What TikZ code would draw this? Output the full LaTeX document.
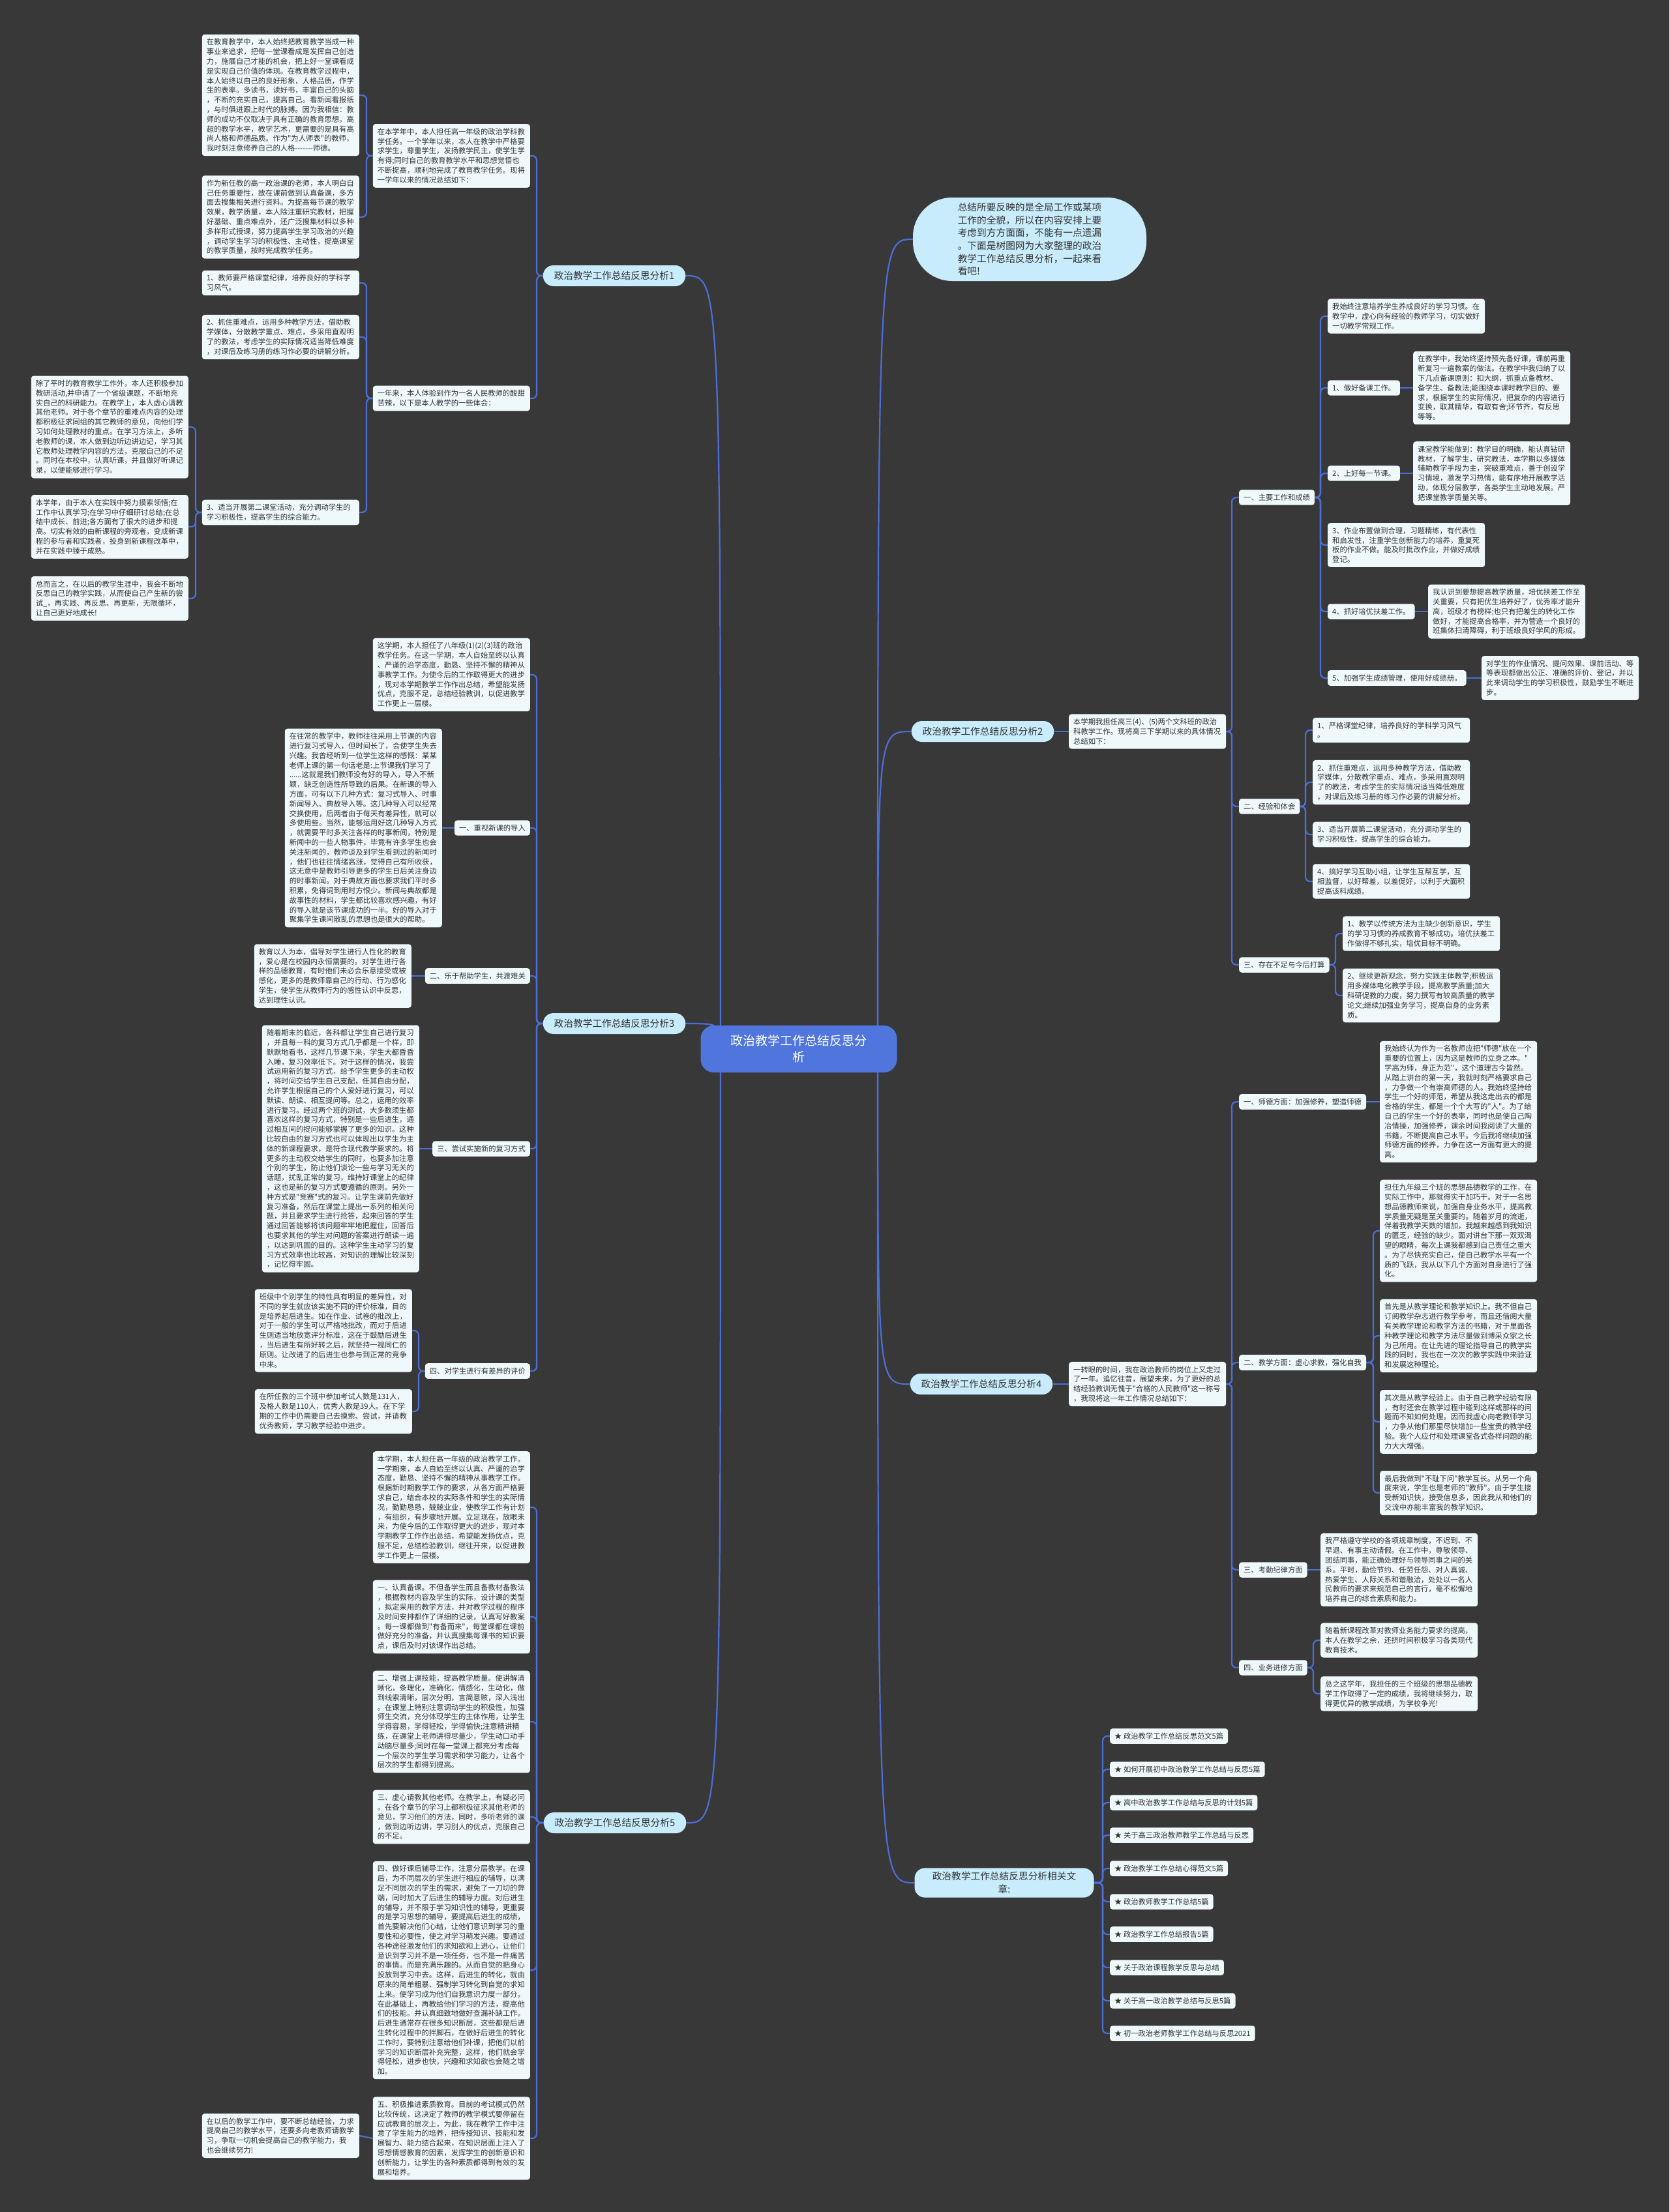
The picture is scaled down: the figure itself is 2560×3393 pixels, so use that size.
\documentclass[tikz,border=0pt]{standalone}
\usepackage{fontspec}
\setmainfont{Noto Sans CJK SC}[Ligatures=TeXOff]
\definecolor{bgc}{HTML}{383838}
\definecolor{boxf}{HTML}{EFF9FC}
\definecolor{topf}{HTML}{C8ECFB}
\definecolor{ctrf}{HTML}{5076DE}
\definecolor{linec}{HTML}{4C6ED8}
\definecolor{txt}{HTML}{333333}
\pgfdeclarelayer{bgl}
\pgfdeclarelayer{edges}
\pgfsetlayers{bgl,edges,main}
\newcommand\lconn[3]{\draw[bconn] (#1.west) -- (#1.west -| #3) |- (#2.east);}
\newcommand\rconn[3]{\draw[bconn] (#1.east) -- (#1.east -| #3) |- (#2.west);}
\newcommand\lcurve[1]{\draw[conn] (ctr.center -| xl) .. controls (xl |- #1.east) .. (#1.east);}
\newcommand\rcurve[1]{\draw[conn] (ctr.center -| xrr) .. controls (xrr |- #1.west) .. (#1.west);}
\begin{document}
\begin{tikzpicture}[x=1pt,y=-1pt,
  box/.style={fill=boxf,rounded corners=4pt,inner xsep=7pt,inner ysep=6.5pt,text=txt,align=left,font=\fontsize{11.3}{14.8}\selectfont},
  wbox/.style={box,text width=227pt},
  tpc/.style={fill=topf,rounded corners=16pt,minimum height=32pt,inner xsep=17pt,inner ysep=6pt,text=txt,align=center,font=\fontsize{14.7}{19.6}\selectfont},
  conn/.style={draw=linec,line width=2.2pt},
  bconn/.style={conn,rounded corners=7pt}]
\begin{pgfonlayer}{bgl}
\fill[bgc] (0,0) rectangle (2560,3393);
\end{pgfonlayer}
\useasboundingbox (0,0) rectangle (2560,3393);

% ---------- centre ----------
\node[fill=ctrf,rounded corners=20pt,minimum width=301pt,minimum height=72pt,text width=215pt,align=center,text=white,font=\fontsize{19}{25}\selectfont] (ctr) at (1225,1609) {政治教学工作总结反思分\\析};

% ---------- topics ----------
\node[tpc] (t1) at (942,423) {政治教学工作总结反思分析1};
\node[tpc] (t3) at (942,1570) {政治教学工作总结反思分析3};
\node[tpc] (t5) at (943,2796) {政治教学工作总结反思分析5};
\node[tpc] (t2) at (1507,1122) {政治教学工作总结反思分析2};
\node[tpc] (t4) at (1505,2123) {政治教学工作总结反思分析4};
\node[tpc,text width=241pt] (t6) at (1540,2888) {政治教学工作总结反思分析相关文\\章:};
\node[fill=topf,rounded corners=60pt,minimum width=358pt,minimum height=128pt,text=txt,align=left,font=\fontsize{14.7}{19.6}\selectfont] (bub) at (1579,367) {总结所要反映的是全局工作或某项\\工作的全貌，所以在内容安排上要\\考虑到方方面面，不能有一点遗漏\\。下面是树图网为大家整理的政治\\教学工作总结反思分析，一起来看\\看吧!};

% ---------- topic 1 ----------
\node[wbox,anchor=east] (a1) at (551,146) {在教育教学中，本人始终把教育教学当成一种\\事业来追求，把每一堂课看成是发挥自己创造\\力，施展自己才能的机会，把上好一堂课看成\\是实现自己价值的体现。在教育教学过程中，\\本人始终以自己的良好形象，人格品质，作学\\生的表率。多读书，读好书，丰富自己的头脑\\，不断的充实自己，提高自己。看新闻看报纸\\，与时俱进跟上时代的脉搏。因为我相信：教\\师的成功不仅取决于具有正确的教育思想，高\\超的教学水平，教学艺术，更需要的是具有高\\尚人格和师德品质。作为"为人师表"的教师，\\我时刻注意修养自己的人格-------师德。};
\node[wbox,anchor=east] (a2) at (551,333) {作为新任教的高一政治课的老师，本人明白自\\己任务重要性，故在课前做到认真备课，多方\\面去搜集相关进行资料。为提高每节课的教学\\效果，教学质量，本人除注重研究教材，把握\\好基础、重点难点外，还广泛搜集材料以多种\\多样形式授课，努力提高学生学习政治的兴趣\\，调动学生学习的积极性、主动性，提高课堂\\的教学质量，按时完成教学任务。};
\node[wbox,anchor=east] (i1) at (813,239) {在本学年中，本人担任高一年级的政治学科教\\学任务。一个学年以来，本人在教学中严格要\\求学生，尊重学生，发扬教学民主，使学生学\\有得;同时自己的教育教学水平和思想觉悟也\\不断提高，顺利地完成了教育教学任务。现将\\一学年以来的情况总结如下：};
\node[wbox,anchor=east] (y1) at (813,611) {一年来，本人体验到作为一名人民教师的酸甜\\苦辣，以下是本人教学的一些体会：};
\node[wbox,anchor=east] (p1) at (551,434) {1、教师要严格课堂纪律，培养良好的学科学\\习风气。};
\node[wbox,anchor=east] (p2) at (551,517) {2、抓住重难点，运用多种教学方法，借助教\\学媒体，分散教学重点、难点，多采用直观明\\了的教法，考虑学生的实际情况适当降低难度\\，对课后及练习册的练习作必要的讲解分析。};
\node[wbox,anchor=east] (p3) at (551,786) {3、适当开展第二课堂活动，充分调动学生的\\学习积极性，提高学生的综合能力。};
\node[wbox,anchor=east] (l1) at (289,655) {除了平时的教育教学工作外，本人还积极参加\\教研活动,并申请了一个省级课题，不断地充\\实自己的科研能力。在教学上，本人虚心请教\\其他老师。对于各个章节的重难点内容的处理\\都积极征求同组的其它教师的意见，向他们学\\习如何处理教材的重点。在学习方法上，多听\\老教师的课，本人做到边听边讲边记，学习其\\它教师处理教学内容的方法，克服自己的不足\\。同时在本校中，认真听课，并且做好听课记\\录，以便能够进行学习。};
\node[wbox,anchor=east] (l2) at (289,808) {本学年，由于本人在实践中努力摸索领悟;在\\工作中认真学习;在学习中仔细研讨总结;在总\\结中成长、前进;各方面有了很大的进步和提\\高。切实有效的由新课程的旁观者，变成新课\\程的参与者和实践者，投身到新课程改革中，\\并在实践中臻于成熟。};
\node[wbox,anchor=east] (l3) at (289,918) {总而言之，在以后的教学生涯中，我会不断地\\反思自己的教学实践，从而使自己产生新的尝\\试\_，再实践、再反思、再更新，无限循环，\\让自己更好地成长!};

% ---------- topic 3 ----------
\node[wbox,anchor=east] (i3) at (813,1035) {这学期，本人担任了八年级(1)(2)(3)班的政治\\教学任务。在这一学期，本人自始至终以认真\\、严谨的治学态度，勤恳、坚持不懈的精神从\\事教学工作。为使今后的工作取得更大的进步\\，现对本学期教学工作作出总结，希望能发扬\\优点，克服不足，总结经验教训，以促进教学\\工作更上一层楼。};
\node[box,anchor=east] (h1) at (813,1270) {一、重视新课的导入};
\node[wbox,anchor=east] (h1a) at (678,1270) {在往常的教学中，教师往往采用上节课的内容\\进行复习式导入，但时间长了，会使学生失去\\兴趣。我曾经听到一位学生这样的感慨：某某\\老师上课的第一句话老是:上节课我们学习了\\......这就是我们教师没有好的导入，导入不新\\颖，缺乏创造性所导致的后果。在新课的导入\\方面，可有以下几种方式：复习式导入、时事\\新闻导入、典故导入等。这几种导入可以经常\\交换使用，后两者由于每天有差异性，就可以\\多使用些。当然，能够运用好这几种导入方式\\，就需要平时多关注各样的时事新闻，特别是\\新闻中的一些人物事件，毕竟有许多学生也会\\关注新闻的，教师谈及到学生看到过的新闻时\\，他们也往往情绪高涨，觉得自己有所收获，\\这无意中是教师引导更多的学生日后关注身边\\的时事新闻。对于典故方面也要求我们平时多\\积累，免得词到用时方恨少。新闻与典故都是\\故事性的材料，学生都比较喜欢感兴趣，有好\\的导入就是该节课成功的一半。好的导入对于\\聚集学生课间散乱的思想也是很大的帮助。};
\node[box,anchor=east] (h2) at (813,1497) {二、乐于帮助学生，共渡难关};
\node[wbox,anchor=east] (h2a) at (631,1497) {教育以人为本，倡导对学生进行人性化的教育\\，爱心是在校园内永恒需要的。对学生进行各\\样的品德教育，有时他们未必会乐意接受或被\\感化，更多的是教师靠自己的行动、行为感化\\学生，使学生从教师行为的感性认识中反思，\\达到理性认识。};
\node[box,anchor=east] (h3) at (813,1762) {三、尝试实施新的复习方式};
\node[wbox,anchor=east] (h3a) at (643,1762) {随着期末的临近，各科都让学生自己进行复习\\，并且每一科的复习方式几乎都是一个样，即\\默默地看书，这样几节课下来，学生大都昏昏\\入睡，复习效率低下。对于这样的情况，我尝\\试运用新的复习方式，给予学生更多的主动权\\，将时间交给学生自己支配，任其自由分配，\\允许学生根据自己的个人爱好进行复习，可以\\默读、朗读、相互提问等。总之，运用的效率\\进行复习。经过两个班的测试，大多数须生都\\喜欢这样的复习方式，特别是一些后进生，通\\过相互间的提问能够掌握了更多的知识。这种\\比较自由的复习方式也可以体现出以学生为主\\体的新课程要求，是符合现代教学要求的。将\\更多的主动权交给学生的同时，也要多加注意\\个别的学生，防止他们谈论一些与学习无关的\\话题，扰乱正常的复习，维持好课堂上的纪律\\，这也是新的复习方式要遵循的原则。另外一\\种方式是"竞赛"式的复习。让学生课前先做好\\复习准备，然后在课堂上提出一系列的相关问\\题，并且要求学生进行抢答，起来回答的学生\\通过回答能够将该问题牢牢地把握住，回答后\\也要求其他的学生对问题的答案进行朗读一遍\\，以达到巩固的目的。这种学生主动学习的复\\习方式效率也比较高，对知识的理解比较深刻\\，记忆得牢固。};
\node[box,anchor=east] (h4) at (813,2103) {四、对学生进行有差异的评价};
\node[wbox,anchor=east] (h4a) at (632,2041) {班级中个别学生的特性具有明显的差异性，对\\不同的学生就应该实施不同的评价标准，目的\\是培养起后进生。如在作业、试卷的批改上，\\对于一般的学生可以严格地批改，而对于后进\\生则适当地放宽评分标准，这在于鼓励后进生\\，当后进生有所好转之后，就坚持一视同仁的\\原则。让改进了的后进生也参与到正常的竞争\\中来。};
\node[wbox,anchor=east] (h4b) at (632,2165) {在所任教的三个班中参加考试人数是131人，\\及格人数是110人，优秀人数是39人。在下学\\期的工作中仍需要自己去摸索、尝试，并请教\\优秀教师，学习教学经验中进步。};

% ---------- topic 5 ----------
\node[wbox,anchor=east] (i5) at (813,2312) {本学期，本人担任高一年级的政治教学工作。\\一学期来，本人自始至终以认真、严谨的治学\\态度，勤恳、坚持不懈的精神从事教学工作。\\根据新时期教学工作的要求，从各方面严格要\\求自己，结合本校的实际条件和学生的实际情\\况，勤勤恳恳，兢兢业业，使教学工作有计划\\，有组织，有步骤地开展。立足现在，放眼未\\来，为使今后的工作取得更大的进步，现对本\\学期教学工作作出总结，希望能发扬优点，克\\服不足，总结检验教训，继往开来，以促进教\\学工作更上一层楼。};
\node[wbox,anchor=east] (f1) at (813,2480) {一、认真备课。不但备学生而且备教材备教法\\，根据教材内容及学生的实际，设计课的类型\\，拟定采用的教学方法，并对教学过程的程序\\及时间安排都作了详细的记录，认真写好教案\\。每一课都做到"有备而来"，每堂课都在课前\\做好充分的准备，并认真搜集每课书的知识要\\点，课后及时对该课作出总结。};
\node[wbox,anchor=east] (f2) at (813,2641) {二、增强上课技能，提高教学质量。使讲解清\\晰化，条理化，准确化，情感化，生动化，做\\到线索清晰，层次分明，言简意赅，深入浅出\\。在课堂上特别注意调动学生的积极性，加强\\师生交流，充分体现学生的主体作用，让学生\\学得容易，学得轻松，学得愉快;注意精讲精\\练，在课堂上老师讲得尽量少，学生动口动手\\动脑尽量多;同时在每一堂课上都充分考虑每\\一个层次的学生学习需求和学习能力，让各个\\层次的学生都得到提高。};
\node[wbox,anchor=east] (f3) at (813,2787) {三、虚心请教其他老师。在教学上，有疑必问\\。在各个章节的学习上都积极征求其他老师的\\意见，学习他们的方法，同时，多听老师的课\\，做到边听边讲，学习别人的优点，克服自己\\的不足。};
\node[wbox,anchor=east] (f4) at (813,3022) {四、做好课后辅导工作，注意分层教学。在课\\后，为不同层次的学生进行相应的辅导，以满\\足不同层次的学生的需求，避免了一刀切的弊\\端，同时加大了后进生的辅导力度。对后进生\\的辅导，并不限于学习知识性的辅导，更重要\\的是学习思想的辅导，要提高后进生的成绩，\\首先要解决他们心结，让他们意识到学习的重\\要性和必要性，使之对学习萌发兴趣。要通过\\各种途径激发他们的求知欲和上进心，让他们\\意识到学习并不是一项任务，也不是一件痛苦\\的事情。而是充满乐趣的。从而自觉的把身心\\投放到学习中去。这样，后进生的转化，就由\\原来的简单粗暴、强制学习转化到自觉的求知\\上来。使学习成为他们自我意识力度一部分。\\在此基础上，再教给他们学习的方法，提高他\\们的技能。并认真细致地做好查漏补缺工作。\\后进生通常存在很多知识断层，这些都是后进\\生转化过程中的拌脚石，在做好后进生的转化\\工作时，要特别注意给他们补课，把他们以前\\学习的知识断层补充完整，这样，他们就会学\\得轻松，进步也快，兴趣和求知欲也会随之增\\加。};
\node[wbox,anchor=east] (f5) at (813,3280) {五、积极推进素质教育。目前的考试模式仍然\\比较传统，这决定了教师的教学模式要停留在\\应试教育的层次上，为此，我在教学工作中注\\意了学生能力的培养，把传授知识、技能和发\\展智力、能力结合起来，在知识层面上注入了\\思想情感教育的因素，发挥学生的创新意识和\\创新能力，让学生的各种素质都得到有效的发\\展和培养。};
\node[wbox,anchor=east] (f5a) at (551,3276) {在以后的教学工作中，要不断总结经验，力求\\提高自己的教学水平，还要多向老教师请教学\\习，争取一切机会提高自己的教学能力，我\\也会继续努力!};

% ---------- topic 2 ----------
\node[wbox,anchor=west] (i2) at (1639,1122) {本学期我担任高三(4)、(5)两个文科班的政治\\科教学工作。现将高三下学期以来的具体情况\\总结如下：};
\node[box,anchor=west] (m) at (1900,763) {一、主要工作和成绩};
\node[wbox,anchor=west] (m0) at (2036,485) {我始终注意培养学生养成良好的学习习惯。在\\教学中，虚心向有经验的教师学习，切实做好\\一切教学常规工作。};
\node[box,anchor=west] (m1) at (2036,595) {1、做好备课工作。};
\node[wbox,anchor=west] (m1a) at (2167,595) {在教学中，我始终坚持预先备好课，课前再重\\新复习一遍教案的做法。在教学中我归纳了以\\下几点备课原则：扣大纲，抓重点备教材、\\备学生、备教法;能围绕本课时教学目的、要\\求，根据学生的实际情况，把复杂的内容进行\\变换，取其精华，有取有舍;环节齐，有反思\\等等。};
\node[box,anchor=west] (m2) at (2036,726) {2、上好每一节课。};
\node[wbox,anchor=west] (m2a) at (2167,726) {课堂教学能做到：教学目的明确，能认真钻研\\教材，了解学生，研究教法，本学期以多媒体\\辅助教学手段为主，突破重难点，善于创设学\\习情境，激发学习热情，能有序地开展教学活\\动，体现分层教学，各类学生主动地发展。严\\把课堂教学质量关等。};
\node[wbox,anchor=west] (m3) at (2036,836) {3、作业布置做到合理，习题精练，有代表性\\和启发性，注重学生创新能力的培养，重复死\\板的作业不做。能及时批改作业，并做好成绩\\登记。};
\node[box,anchor=west] (m4) at (2036,938) {4、抓好培优扶差工作。};
\node[wbox,anchor=west] (m4a) at (2190,938) {我认识到要想提高教学质量，培优扶差工作至\\关重要，只有把优生培养好了，优秀率才能升\\高，班级才有榜样;也只有把差生的转化工作\\做好，才能提高合格率，并为营造一个良好的\\班集体扫清障碍，利于班级良好学风的形成。};
\node[box,anchor=west] (m5) at (2036,1040) {5、加强学生成绩管理，使用好成绩册。};
\node[wbox,anchor=west] (m5a) at (2272,1040) {对学生的作业情况、提问效果、课前活动、等\\等表现都做出公正、准确的评价、登记，并以\\此来调动学生的学习积极性，鼓励学生不断进\\步。};
\node[box,anchor=west] (e) at (1900,1237) {二、经验和体会};
\node[wbox,anchor=west] (e1) at (2013,1120) {1、严格课堂纪律，培养良好的学科学习风气\\。};
\node[wbox,anchor=west] (e2) at (2013,1200) {2、抓住重难点，运用多种教学方法，借助教\\学媒体，分散教学重点、难点，多采用直观明\\了的教法，考虑学生的实际情况适当降低难度\\，对课后及练习册的练习作必要的讲解分析。};
\node[wbox,anchor=west] (e3) at (2013,1280) {3、适当开展第二课堂活动，充分调动学生的\\学习积极性，提高学生的综合能力。};
\node[wbox,anchor=west] (e4) at (2013,1352) {4、搞好学习互助小组，让学生互帮互学，互\\相监督，以好帮差，以差促好，以利于大面积\\提高该科成绩。};
\node[box,anchor=west] (s) at (1900,1480) {三、存在不足与今后打算};
\node[wbox,anchor=west] (s1) at (2059,1432) {1、教学以传统方法为主缺少创新意识，学生\\的学习习惯的养成教育不够成功。培优扶差工\\作做得不够扎实，培优目标不明确。};
\node[wbox,anchor=west] (s2) at (2059,1527) {2、继续更新观念，努力实践主体教学;积极运\\用多媒体电化教学手段，提高教学质量;加大\\科研促教的力度，努力撰写有较高质量的教学\\论文;继续加强业务学习，提高自身的业务素\\质。};

% ---------- topic 4 ----------
\node[wbox,anchor=west] (i4) at (1639,2123) {一转眼的时间，我在政治教师的岗位上又走过\\了一年。追忆往昔，展望未来，为了更好的总\\结经验教训无愧于"合格的人民教师"这一称号\\，我现将这一年工作情况总结如下：};
\node[box,anchor=west] (g1) at (1900,1690) {一、师德方面：加强修养，塑造师德};
\node[wbox,anchor=west] (g1a) at (2116,1690) {我始终认为作为一名教师应把"师德"放在一个\\重要的位置上，因为这是教师的立身之本。"\\学高为师，身正为范"，这个道理古今皆然。\\从踏上讲台的第一天，我就时刻严格要求自己\\，力争做一个有崇高师德的人。我始终坚持给\\学生一个好的师范，希望从我这走出去的都是\\合格的学生，都是一个个大写的"人"。为了给\\自己的学生一个好的表率，同时也是使自己陶\\冶情操，加强修养，课余时间我阅读了大量的\\书籍，不断提高自己水平。今后我将继续加强\\师德方面的修养，力争在这一方面有更大的提\\高。};
\node[box,anchor=west] (g2) at (1900,2090) {二、教学方面：虚心求教，强化自我};
\node[wbox,anchor=west] (g2a) at (2116,1888) {担任九年级三个班的思想品德教学的工作，在\\实际工作中，那就得实干加巧干。对于一名思\\想品德教师来说，加强自身业务水平，提高教\\学质量无疑是至关重要的。随着岁月的流逝，\\伴着我教学天数的增加，我越来越感到我知识\\的匮乏，经验的缺少。面对讲台下那一双双渴\\望的眼睛，每次上课我都感到自己责任之重大\\。为了尽快充实自己，使自己教学水平有一个\\质的飞跃，我从以下几个方面对自身进行了强\\化。};
\node[wbox,anchor=west] (g2b) at (2116,2049) {首先是从教学理论和教学知识上。我不但自己\\订阅教学杂志进行教学参考，而且还借阅大量\\有关教学理论和教学方法的书籍，对于里面各\\种教学理论和教学方法尽量做到博采众家之长\\为己所用。在让先进的理论指导自己的教学实\\践的同时，我也在一次次的教学实践中来验证\\和发展这种理论。};
\node[wbox,anchor=west] (g2c) at (2116,2181) {其次是从教学经验上。由于自己教学经验有限\\，有时还会在教学过程中碰到这样或那样的问\\题而不知如何处理。因而我虚心向老教师学习\\，力争从他们那里尽快增加一些宝贵的教学经\\验。我个人应付和处理课堂各式各样问题的能\\力大大增强。};
\node[wbox,anchor=west] (g2d) at (2116,2290) {最后我做到"不耻下问"教学互长。从另一个角\\度来说，学生也是老师的"教师"。由于学生接\\受新知识快，接受信息多，因此我从和他们的\\交流中亦能丰富我的教学知识。};
\node[box,anchor=west] (g3) at (1900,2408) {三、考勤纪律方面};
\node[wbox,anchor=west] (g3a) at (2025,2408) {我严格遵守学校的各项规章制度，不迟到、不\\早退、有事主动请假。在工作中，尊敬领导、\\团结同事，能正确处理好与领导同事之间的关\\系。平时，勤俭节约、任劳任怨、对人真诚、\\热爱学生、人际关系和谐融洽，处处以一名人\\民教师的要求来规范自己的言行，毫不松懈地\\培养自己的综合素质和能力。};
\node[box,anchor=west] (g4) at (1900,2558) {四、业务进修方面};
\node[wbox,anchor=west] (g4a) at (2025,2516) {随着新课程改革对教师业务能力要求的提高，\\本人在教学之余，还挤时间积极学习各类现代\\教育技术。};
\node[wbox,anchor=west] (g4b) at (2025,2598) {总之这学年，我担任的三个班级的思想品德教\\学工作取得了一定的成绩，我将继续努力，取\\得更优异的教学成绩，为学校争光!};

% ---------- related ----------
\node[box,anchor=west] (r0) at (1702,2663) {★ 政治教学工作总结反思范文5篇};
\node[box,anchor=west] (r1) at (1702,2714) {★ 如何开展初中政治教学工作总结与反思5篇};
\node[box,anchor=west] (r2) at (1702,2765) {★ 高中政治教学工作总结与反思的计划5篇};
\node[box,anchor=west] (r3) at (1702,2815) {★ 关于高三政治教师教学工作总结与反思};
\node[box,anchor=west] (r4) at (1702,2866) {★ 政治教学工作总结心得范文5篇};
\node[box,anchor=west] (r5) at (1702,2917) {★ 政治教师教学工作总结5篇};
\node[box,anchor=west] (r6) at (1702,2967) {★ 政治教学工作总结报告5篇};
\node[box,anchor=west] (r7) at (1702,3018) {★ 关于政治课程教学反思与总结};
\node[box,anchor=west] (r8) at (1702,3069) {★ 关于高一政治教学总结与反思5篇};
\node[box,anchor=west] (r9) at (1702,3119) {★ 初一政治老师教学工作总结与反思2021};

% ---------- bracket coordinates ----------
\coordinate (xa) at (562,0);
\coordinate (xb) at (300,0);
\coordinate (xt) at (823,0);
\coordinate (xh4) at (642,0);
\coordinate (xi2) at (1889,0);
\coordinate (xm) at (2025,0);
\coordinate (xe) at (2002,0);
\coordinate (xs) at (2048,0);
\coordinate (xg2) at (2106,0);
\coordinate (xg4) at (2014,0);
\coordinate (xr) at (1691,0);
\coordinate (xl) at (1105,0);
\coordinate (xrr) at (1346,0);

\begin{pgfonlayer}{edges}
% centre curves
\lcurve{t1} \lcurve{t3} \lcurve{t5}
\rcurve{bub} \rcurve{t2} \rcurve{t4} \rcurve{t6}
% topic 1
\lconn{t1}{i1}{xt} \lconn{t1}{y1}{xt}
\lconn{i1}{a1}{xa} \lconn{i1}{a2}{xa}
\lconn{y1}{p1}{xa} \lconn{y1}{p2}{xa} \lconn{y1}{p3}{xa}
\lconn{p3}{l1}{xb} \lconn{p3}{l2}{xb} \lconn{p3}{l3}{xb}
% topic 3
\lconn{t3}{i3}{xt} \lconn{t3}{h1}{xt} \lconn{t3}{h2}{xt} \lconn{t3}{h3}{xt} \lconn{t3}{h4}{xt}
\draw[conn] (h1.west) -- (h1a.east);
\draw[conn] (h2.west) -- (h2a.east);
\draw[conn] (h3.west) -- (h3a.east);
\lconn{h4}{h4a}{xh4} \lconn{h4}{h4b}{xh4}
% topic 5
\lconn{t5}{i5}{xt} \lconn{t5}{f1}{xt} \lconn{t5}{f2}{xt} \lconn{t5}{f3}{xt} \lconn{t5}{f4}{xt} \lconn{t5}{f5}{xt}
\draw[conn] (f5.west) -- (f5a.east);
% topic 2
\draw[conn] (t2.east) -- (i2.west);
\rconn{i2}{m}{xi2} \rconn{i2}{e}{xi2} \rconn{i2}{s}{xi2}
\rconn{m}{m0}{xm} \rconn{m}{m1}{xm} \rconn{m}{m2}{xm} \rconn{m}{m3}{xm} \rconn{m}{m4}{xm} \rconn{m}{m5}{xm}
\draw[conn] (m1.east) -- (m1a.west);
\draw[conn] (m2.east) -- (m2a.west);
\draw[conn] (m4.east) -- (m4a.west);
\draw[conn] (m5.east) -- (m5a.west);
\rconn{e}{e1}{xe} \rconn{e}{e2}{xe} \rconn{e}{e3}{xe} \rconn{e}{e4}{xe}
\rconn{s}{s1}{xs} \rconn{s}{s2}{xs}
% topic 4
\draw[conn] (t4.east) -- (i4.west);
\rconn{i4}{g1}{xi2} \rconn{i4}{g2}{xi2} \rconn{i4}{g3}{xi2} \rconn{i4}{g4}{xi2}
\draw[conn] (g1.east) -- (g1a.west);
\rconn{g2}{g2a}{xg2} \rconn{g2}{g2b}{xg2} \rconn{g2}{g2c}{xg2} \rconn{g2}{g2d}{xg2}
\draw[conn] (g3.east) -- (g3a.west);
\rconn{g4}{g4a}{xg4} \rconn{g4}{g4b}{xg4}
% related
\rconn{t6}{r0}{xr} \rconn{t6}{r1}{xr} \rconn{t6}{r2}{xr} \rconn{t6}{r3}{xr} \rconn{t6}{r4}{xr}
\rconn{t6}{r5}{xr} \rconn{t6}{r6}{xr} \rconn{t6}{r7}{xr} \rconn{t6}{r8}{xr} \rconn{t6}{r9}{xr}
\end{pgfonlayer}
\end{tikzpicture}
\end{document}
